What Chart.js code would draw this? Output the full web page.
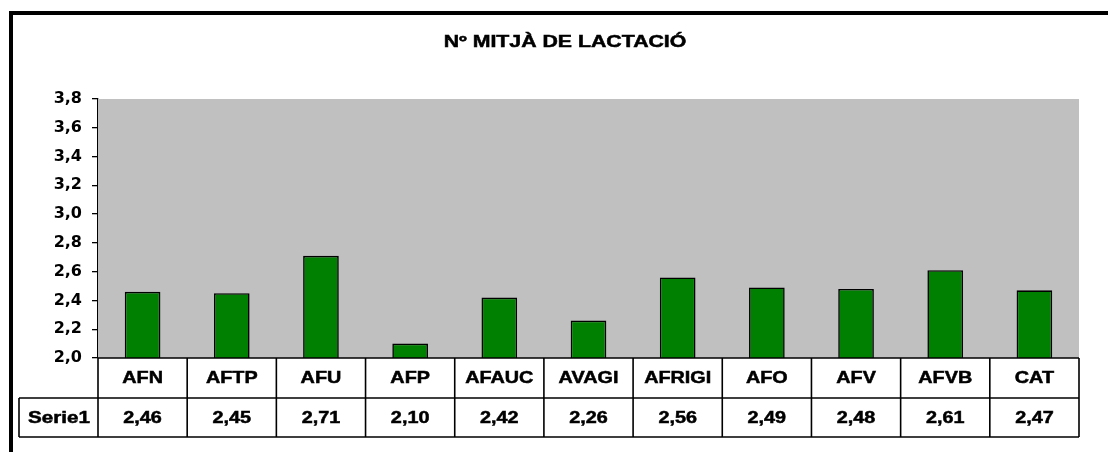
<!DOCTYPE html>
<html>
<head>
<meta charset="utf-8">
<script src="https://cdn.jsdelivr.net/npm/chart.js@4/dist/chart.umd.min.js"></script>
<style>
html,body{margin:0;padding:0;background:#fff;}
#wrap{width:1108px;height:452px;position:relative;}
</style>
</head>
<body>
<div id="wrap"><canvas id="c" width="1108" height="452"></canvas></div>
<script>
const title = 'Nº MITJÀ DE LACTACIÓ';
const categories = ['AFN','AFTP','AFU','AFP','AFAUC','AVAGI','AFRIGI','AFO','AFV','AFVB','CAT'];
const seriesName = 'Serie1';
const values = [2.46, 2.45, 2.71, 2.10, 2.42, 2.26, 2.56, 2.49, 2.48, 2.61, 2.47];
const yMin = 2.0, yMax = 3.8, yStep = 0.2;

const fmt = v => v.toFixed(2).replace('.', ',');

function stretchText(ctx, text, x, y, sx, align) {
  ctx.save();
  ctx.translate(x, y);
  ctx.scale(sx, 1);
  ctx.textAlign = align || 'center';
  ctx.textBaseline = 'middle';
  ctx.lineWidth = 0.5;
  ctx.strokeStyle = '#000';
  ctx.fillText(text, 0, 0);
  ctx.strokeText(text, 0, 0);
  ctx.restore();
}

const decor = {
  id: 'decor',
  beforeDatasetsDraw(chart) {
    const {ctx, chartArea: a} = chart;
    ctx.save();
    ctx.fillStyle = '#C0C0C0';
    ctx.fillRect(a.left, a.top, a.right - a.left, a.bottom - a.top);
    ctx.restore();
  },
  beforeDraw(chart) {
    const ctx = chart.ctx;
    ctx.save();
    ctx.fillStyle = '#fff';
    ctx.fillRect(0, 0, chart.width, chart.height);
    ctx.restore();
  },
  afterDraw(chart) {
    const ctx = chart.ctx;
    const x = chart.scales.x;
    const a = chart.chartArea;
    const n = categories.length;
    const w = (a.right - a.left) / n;
    const top = a.bottom, mid = a.bottom + 40, bot = a.bottom + 79;
    const headLeft = 19;
    ctx.save();
    // outer frame
    ctx.fillStyle = '#000';
    ctx.fillRect(9, 11, chart.width - 9, 4);
    ctx.fillRect(9, 11, 4, chart.height - 11);
    // title
    ctx.font = 'bold 16.5px "Liberation Sans", Arial, sans-serif';
    ctx.fillStyle = '#000';
    stretchText(ctx, title, 565, 42, 1.29);
    // table lines
    ctx.strokeStyle = '#000';
    ctx.lineWidth = 1.6;
    ctx.beginPath();
    ctx.moveTo(a.left, top); ctx.lineTo(a.right, top);
    ctx.moveTo(headLeft, mid); ctx.lineTo(a.right, mid);
    ctx.moveTo(headLeft, bot); ctx.lineTo(a.right, bot);
    ctx.moveTo(headLeft, mid); ctx.lineTo(headLeft, bot);
    for (let i = 0; i <= n; i++) {
      const px = a.left + i * w;
      ctx.moveTo(px, top); ctx.lineTo(px, bot);
    }
    ctx.stroke();
    // texts
    ctx.font = 'bold 16.5px "Liberation Sans", Arial, sans-serif';
    categories.forEach((c, i) => {
      const cx = x.getPixelForValue(i);
      stretchText(ctx, c, cx, (top + mid) / 2, 1.2);
      stretchText(ctx, fmt(values[i]), cx, (mid + bot) / 2 + 1, 1.2);
    });
    stretchText(ctx, seriesName, (headLeft + a.left) / 2 + 0.5, (mid + bot) / 2 + 1, 1.25);
    ctx.restore();
  }
};

new Chart(document.getElementById('c'), {
  type: 'bar',
  data: {
    labels: categories,
    datasets: [{
      label: seriesName,
      data: values,
      backgroundColor: '#008000',
      borderColor: '#000',
      borderWidth: 1.6,
      borderSkipped: 'bottom',
      categoryPercentage: 1,
      barPercentage: 0.4
    }]
  },
  options: {
    responsive: false,
    animation: false,
    events: [],
    layout: {padding: {left: 0, top: 99, right: 29, bottom: 94}},
    plugins: {legend: {display: false}, title: {display: false}, tooltip: {enabled: false}},
    scales: {
      x: {display: false},
      y: {
        min: yMin, max: yMax,
        afterFit(s) { s.width = 98; },
        ticks: {
          stepSize: yStep,
          color: '#000',
          padding: 10,
          font: {family: '"DejaVu Sans", sans-serif', weight: 'bold', size: 16},
          callback: v => Number(v).toFixed(1).replace('.', ',')
        },
        grid: {drawOnChartArea: false, drawTicks: true, tickLength: 6, color: '#000', lineWidth: 1.3},
        border: {display: true, color: '#000', width: 1.3}
      }
    }
  },
  plugins: [decor]
});
</script>
</body>
</html>
